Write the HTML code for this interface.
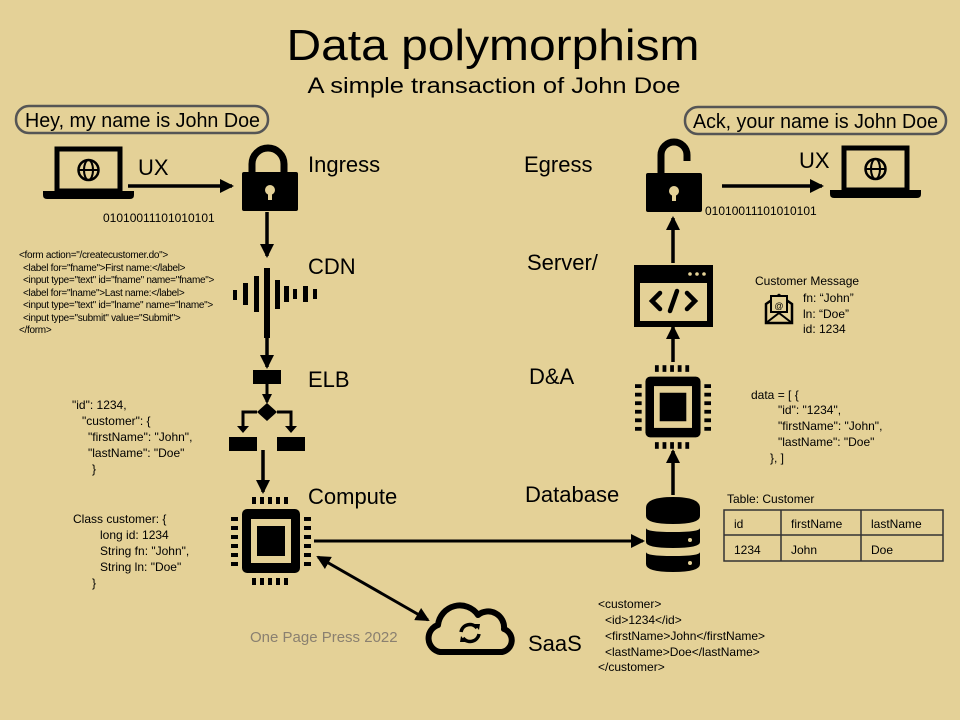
<!DOCTYPE html>
<html><head><meta charset="utf-8"><style>
html,body{margin:0;padding:0;width:960px;height:720px;overflow:hidden;background:#e4d197;}
svg{display:block;font-family:"Liberation Sans",sans-serif;}
</style></head><body>
<svg width="960" height="720" viewBox="0 0 960 720" xmlns="http://www.w3.org/2000/svg">
<defs>
<marker id="ah" markerWidth="10" markerHeight="10" refX="8" refY="5" orient="auto" markerUnits="userSpaceOnUse"><path d="M0,0 L10,5 L0,10 z" fill="#000"/></marker>
<marker id="ah2" markerWidth="14" markerHeight="14" refX="12" refY="7" orient="auto" markerUnits="userSpaceOnUse"><path d="M0,0 L14,7 L0,14 z" fill="#000"/></marker>
<marker id="ahs" markerWidth="14" markerHeight="14" refX="2" refY="7" orient="auto" markerUnits="userSpaceOnUse"><path d="M14,0 L0,7 L14,14 z" fill="#000"/></marker>
<g id="chip">
<rect x="-29" y="-32" width="58" height="64" rx="5" fill="#000"/>
<rect x="-20" y="-22" width="40" height="44" fill="#e4d197"/>
<rect x="-14" y="-15" width="28" height="30" fill="#000"/>
<g fill="#000">
<rect x="-19" y="-44" width="4" height="7"/><rect x="-11" y="-44" width="4" height="7"/><rect x="-3" y="-44" width="4" height="7"/><rect x="5" y="-44" width="4" height="7"/><rect x="13" y="-44" width="4" height="7"/>
<rect x="-19" y="37" width="4" height="7"/><rect x="-11" y="37" width="4" height="7"/><rect x="-3" y="37" width="4" height="7"/><rect x="5" y="37" width="4" height="7"/><rect x="13" y="37" width="4" height="7"/>
<rect x="-40" y="-24" width="7" height="4"/><rect x="-40" y="-15" width="7" height="4"/><rect x="-40" y="-6" width="7" height="4"/><rect x="-40" y="3" width="7" height="4"/><rect x="-40" y="12" width="7" height="4"/><rect x="-40" y="21" width="7" height="4"/>
<rect x="33" y="-24" width="7" height="4"/><rect x="33" y="-15" width="7" height="4"/><rect x="33" y="-6" width="7" height="4"/><rect x="33" y="3" width="7" height="4"/><rect x="33" y="12" width="7" height="4"/><rect x="33" y="21" width="7" height="4"/>
</g></g>
<g id="laptop">
<rect x="14" y="2" width="63" height="42" fill="none" stroke="#000" stroke-width="5"/>
<path d="M0,44 h91 v4 q0,4 -4,4 h-83 q-4,0 -4,-4z" fill="#000"/>
<circle cx="45.5" cy="23" r="10" fill="none" stroke="#000" stroke-width="2.5"/>
<ellipse cx="45.5" cy="23" rx="4.5" ry="10" fill="none" stroke="#000" stroke-width="2"/>
<line x1="35.5" y1="23" x2="55.5" y2="23" stroke="#000" stroke-width="2"/>
</g>
</defs>

<text x="493" y="60" font-size="44" text-anchor="middle" textLength="413" lengthAdjust="spacingAndGlyphs">Data polymorphism</text>
<text x="494" y="93" font-size="22" text-anchor="middle" textLength="373" lengthAdjust="spacingAndGlyphs">A simple transaction of John Doe</text>

<rect x="16" y="106" width="252" height="27" rx="13" fill="none" stroke="#555" stroke-width="2.5"/>
<text x="25" y="127" font-size="20" textLength="235" lengthAdjust="spacingAndGlyphs">Hey, my name is John Doe</text>
<rect x="685" y="107" width="261" height="27" rx="13" fill="none" stroke="#555" stroke-width="2.5"/>
<text x="693" y="128" font-size="20" textLength="245" lengthAdjust="spacingAndGlyphs">Ack, your name is John Doe</text>

<!-- left -->
<use href="#laptop" x="43" y="147"/>
<text x="138" y="175" font-size="22">UX</text>
<line x1="128" y1="186" x2="232" y2="186" stroke="#000" stroke-width="3.5" marker-end="url(#ah2)"/>
<path d="M252,174 v-10 a16,16 0 0 1 32,0 v10" fill="none" stroke="#000" stroke-width="7"/>
<rect x="242" y="172" width="56" height="39" rx="2" fill="#000"/>
<circle cx="270" cy="190" r="5" fill="#e4d197"/><rect x="268" y="191" width="4" height="9" fill="#e4d197"/>
<text x="308" y="172" font-size="22">Ingress</text>
<text x="103" y="222" font-size="12">01010011101010101</text>
<line x1="267" y1="212" x2="267" y2="256" stroke="#000" stroke-width="3.5" marker-end="url(#ah2)"/>
<g fill="#000">
<rect x="233" y="290" width="4" height="10"/><rect x="243" y="283" width="5" height="22"/><rect x="254" y="276" width="5" height="36"/><rect x="264" y="268" width="6" height="70"/><rect x="275" y="280" width="5" height="29"/><rect x="284" y="286" width="5" height="16"/><rect x="293" y="289" width="4" height="10"/><rect x="303" y="286" width="5" height="16"/><rect x="313" y="289" width="4" height="10"/>
</g>
<line x1="267" y1="335" x2="267" y2="367" stroke="#000" stroke-width="3.5" marker-end="url(#ah2)"/>
<text x="308" y="274" font-size="22">CDN</text>
<g font-size="10" letter-spacing="-0.3">
<text x="19" y="258">&lt;form action="/createcustomer.do"&gt;</text>
<text x="23" y="271">&lt;label for="fname"&gt;First name:&lt;/label&gt;</text>
<text x="23" y="283">&lt;input type="text" id="fname" name="fname"&gt;</text>
<text x="23" y="296">&lt;label for="lname"&gt;Last name:&lt;/label&gt;</text>
<text x="23" y="308">&lt;input type="text" id="lname" name="lname"&gt;</text>
<text x="23" y="321">&lt;input type="submit" value="Submit"&gt;</text>
<text x="19" y="333">&lt;/form&gt;</text>
</g>
<rect x="253" y="370" width="28" height="14" fill="#000"/>
<line x1="267" y1="384" x2="267" y2="402" stroke="#000" stroke-width="3" marker-end="url(#ah)"/>
<path d="M267,403 l10,9 l-10,9 l-10,-9z" fill="#000"/>
<path d="M257,412 h-14 v16 M277,412 h14 v16" fill="none" stroke="#000" stroke-width="3"/>
<path d="M237,426 l6,7 l6,-7z M285,426 l6,7 l6,-7z" fill="#000"/>
<rect x="229" y="437" width="28" height="14" fill="#000"/><rect x="277" y="437" width="28" height="14" fill="#000"/>
<line x1="263" y1="450" x2="263" y2="492" stroke="#000" stroke-width="3.5" marker-end="url(#ah2)"/>
<text x="308" y="387" font-size="22">ELB</text>
<g font-size="12">
<text x="72" y="409">"id": 1234,</text>
<text x="82" y="425">"customer": {</text>
<text x="88" y="441">"firstName":  "John",</text>
<text x="88" y="457">"lastName":  "Doe"</text>
<text x="92" y="473">}</text>
</g>
<use href="#chip" x="271" y="541"/>
<text x="308" y="504" font-size="22">Compute</text>
<g font-size="12">
<text x="73" y="523">Class customer: {</text>
<text x="100" y="539">long id: 1234</text>
<text x="100" y="555">String fn: "John",</text>
<text x="100" y="571">String ln: "Doe"</text>
<text x="92" y="587">}</text>
</g>
<line x1="314" y1="541" x2="643" y2="541" stroke="#000" stroke-width="3" marker-end="url(#ah2)"/>
<line x1="318" y1="557" x2="428" y2="620" stroke="#000" stroke-width="3" marker-start="url(#ahs)" marker-end="url(#ah2)"/>
<text x="250" y="642" font-size="15" fill="#8a8070">One Page Press 2022</text>
<path d="M440,652 a14,14 0 0 1 -2,-27 a22,22 0 0 1 40,-10 a16,16 0 0 1 26,14 a12,12 0 0 1 -2,23 z" fill="none" stroke="#000" stroke-width="6" stroke-linejoin="round"/>
<path d="M461,632 a9,9 0 0 1 16,-4 M479,634 a9,9 0 0 1 -16,4" fill="none" stroke="#000" stroke-width="3.5"/>
<path d="M474,624 l6,0 l-1,6z M466,642 l-6,0 l1,-6z" fill="#000"/>
<text x="528" y="651" font-size="22">SaaS</text>

<!-- right -->
<path d="M661,175 v-20 a13,13 0 0 1 26,0 v6" fill="none" stroke="#000" stroke-width="7"/>
<rect x="646" y="173" width="56" height="39" rx="2" fill="#000"/>
<circle cx="674" cy="191" r="5" fill="#e4d197"/><rect x="672" y="192" width="4" height="9" fill="#e4d197"/>
<text x="524" y="172" font-size="22">Egress</text>
<line x1="722" y1="186" x2="822" y2="186" stroke="#000" stroke-width="3.5" marker-end="url(#ah2)"/>
<text x="799" y="168" font-size="22">UX</text>
<use href="#laptop" x="830" y="146"/>
<text x="705" y="215" font-size="12">01010011101010101</text>
<line x1="673" y1="263" x2="673" y2="218" stroke="#000" stroke-width="3.5" marker-end="url(#ah2)"/>
<rect x="634" y="265" width="79" height="62" fill="#000"/>
<rect x="640" y="283" width="67" height="38" fill="#e4d197"/>
<circle cx="690" cy="274" r="1.8" fill="#e4d197"/><circle cx="697" cy="274" r="1.8" fill="#e4d197"/><circle cx="704" cy="274" r="1.8" fill="#e4d197"/>
<path d="M660,293 l-8,8 l8,8 M687,293 l8,8 l-8,8 M677,291 l-7,20" fill="none" stroke="#000" stroke-width="4.5" stroke-linecap="round"/>
<text x="527" y="270" font-size="22">Server/</text>
<line x1="673" y1="362" x2="673" y2="327" stroke="#000" stroke-width="3.5" marker-end="url(#ah2)"/>
<use href="#chip" x="673" y="407" transform="translate(673 407) scale(0.95) translate(-673 -407)"/>
<text x="529" y="384" font-size="22">D&amp;A</text>
<line x1="673" y1="495" x2="673" y2="451" stroke="#000" stroke-width="3.5" marker-end="url(#ah2)"/>
<g fill="#000">
<path d="M646,508 q0,-11 27,-11 q27,0 27,11 v8 q0,8 -27,8 q-27,0 -27,-8z"/>
<path d="M646,528 q0,4 27,4 q27,0 27,-4 v14 q0,6 -27,6 q-27,0 -27,-6z"/>
<path d="M646,552 q0,4 27,4 q27,0 27,-4 v12 q0,8 -27,8 q-27,0 -27,-8z"/>
</g>
<circle cx="690" cy="540" r="2" fill="#e4d197"/><circle cx="690" cy="563" r="2" fill="#e4d197"/>
<text x="525" y="502" font-size="22">Database</text>
<text x="755" y="285" font-size="12">Customer  Message</text>
<path d="M766,304 l13,-9 l13,9 v19 h-26z" fill="none" stroke="#000" stroke-width="2.5"/>
<rect x="771" y="296" width="16" height="16" fill="#e4d197" stroke="#000" stroke-width="2"/>
<text x="779" y="309" font-size="9" text-anchor="middle">@</text>
<path d="M766,323 l13,-10 l13,10" fill="none" stroke="#000" stroke-width="2"/>
<g font-size="12">
<text x="803" y="302">fn: “John”</text>
<text x="803" y="318">ln: “Doe”</text>
<text x="803" y="333">id: 1234</text>
<text x="751" y="399">data  = [ {</text>
<text x="778" y="414">"id": "1234",</text>
<text x="778" y="430">"firstName":  "John",</text>
<text x="778" y="446">"lastName":  "Doe"</text>
<text x="770" y="462">}, ]</text>
<text x="727" y="503">Table: Customer</text>
<text x="734" y="528">id</text><text x="791" y="528">firstName</text><text x="871" y="528">lastName</text>
<text x="734" y="554">1234</text><text x="791" y="554">John</text><text x="871" y="554">Doe</text>
</g>
<rect x="724" y="510" width="219" height="51" fill="none" stroke="#333" stroke-width="1.5"/>
<line x1="724" y1="535" x2="943" y2="535" stroke="#333" stroke-width="1.5"/>
<line x1="781" y1="510" x2="781" y2="561" stroke="#333" stroke-width="1.5"/>
<line x1="861" y1="510" x2="861" y2="561" stroke="#333" stroke-width="1.5"/>
<g font-size="12">
<text x="598" y="608">&lt;customer&gt;</text>
<text x="605" y="624">&lt;id&gt;1234&lt;/id&gt;</text>
<text x="605" y="640">&lt;firstName&gt;John&lt;/firstName&gt;</text>
<text x="605" y="656">&lt;lastName&gt;Doe&lt;/lastName&gt;</text>
<text x="598" y="671">&lt;/customer&gt;</text>
</g>
</svg>
</body></html>
